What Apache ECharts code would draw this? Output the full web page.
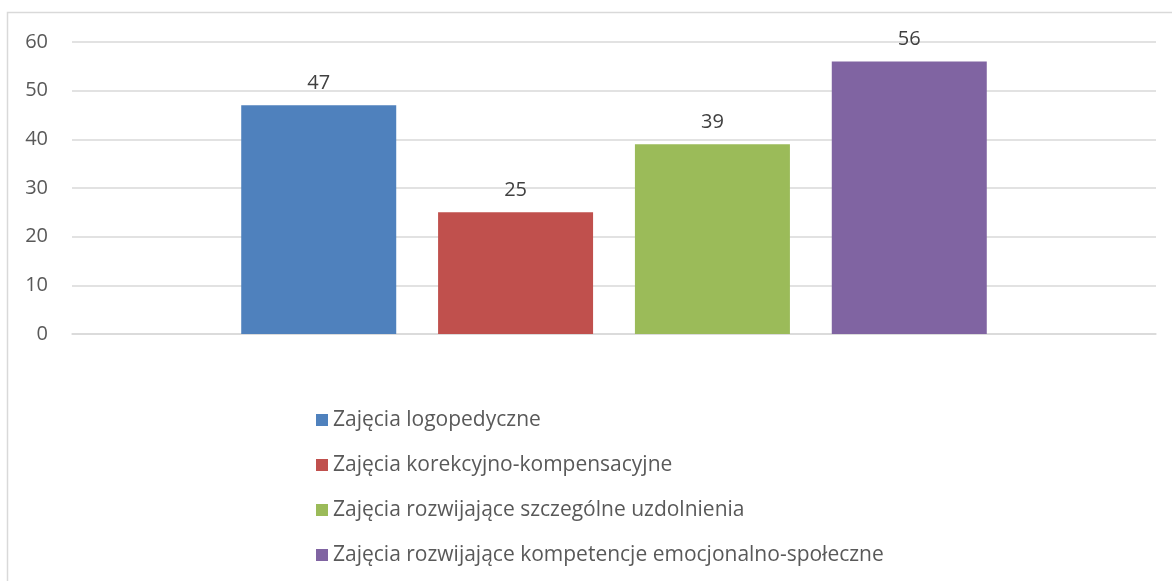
<!DOCTYPE html>
<html lang="pl">
<head>
    <meta charset="UTF-8">
    <title>Zajęcia</title>
    <script src="https://cdn.jsdelivr.net/npm/echarts@6/dist/echarts.min.js"></script>
    <style>
        html, body { margin: 0; padding: 0; background: #fff; }
        #chart { width: 1172px; height: 581px; }
    </style>
</head>
<body>
    <div id="chart"></div>
    <script>
        // dane
        const seriesNames = [
            'Zajęcia logopedyczne',
            'Zajęcia korekcyjno-kompensacyjne',
            'Zajęcia rozwijające szczególne uzdolnienia',
            'Zajęcia rozwijające kompetencje emocjonalno-społeczne'
        ];
        const seriesValues = [47, 25, 39, 56];
        const seriesColors = ['#4f81bd', '#c0504d', '#9bbb59', '#8064a2'];
        const categories = [''];

        const chart = echarts.init(document.getElementById('chart'));
        const font = '"Open Sans", "DejaVu Sans", sans-serif';

        const series = seriesNames.map((name, i) => ({
            name: name,
            type: 'bar',
            data: [seriesValues[i]],
            barWidth: 155,
            barGap: '27%',
            itemStyle: { color: seriesColors[i] },
            label: {
                show: true,
                position: 'top',
                distance: 12,
                color: '#404040',
                fontSize: 20,
                fontFamily: font
            }
        }));

        chart.setOption({
            animation: false,
            graphic: [{
                type: 'rect',
                shape: { x: 7.5, y: 12.5, width: 1300, height: 700 },
                style: { fill: 'none', stroke: '#d9d9d9', lineWidth: 1.5 },
                silent: true
            }],
            grid: { left: 72, right: 16, top: 42, height: 292 },
            legend: {
                orient: 'vertical',
                left: 311,
                top: 403,
                itemWidth: 12,
                itemHeight: 12,
                itemGap: 21,
                icon: 'rect',
                textStyle: { color: '#595959', fontSize: 21, fontFamily: font, lineHeight: 24 },
                data: seriesNames
            },
            xAxis: {
                type: 'category',
                data: categories,
                axisLine: { lineStyle: { color: '#d9d9d9', width: 1.5 } },
                axisTick: { show: false },
                axisLabel: { show: false }
            },
            yAxis: {
                type: 'value',
                min: 0,
                max: 60,
                interval: 10,
                axisLine: { show: false },
                axisTick: { show: false },
                axisLabel: { color: '#595959', fontSize: 20, fontFamily: font, margin: 24 },
                splitLine: { lineStyle: { color: '#d9d9d9', width: 1.5 } }
            },
            series: series
        });
    </script>
</body>
</html>
